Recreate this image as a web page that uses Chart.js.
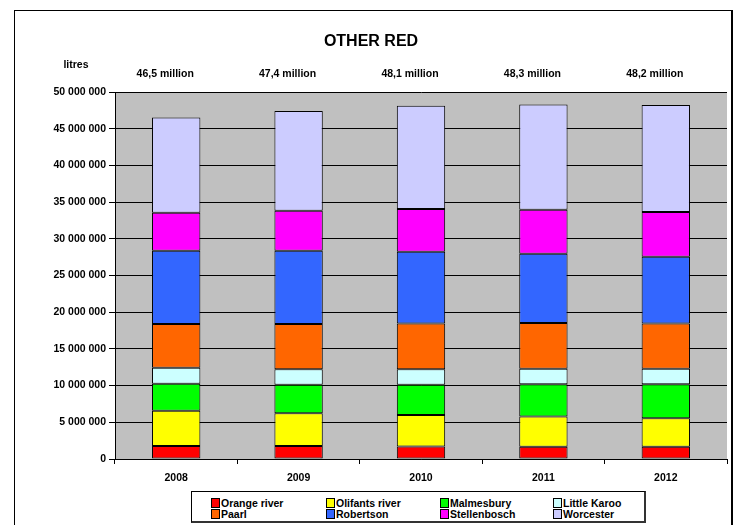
<!DOCTYPE html>
<html><head><meta charset="utf-8">
<script src="https://cdn.jsdelivr.net/npm/chart.js@4.4.1/dist/chart.umd.min.js"></script>
<style>
html,body{margin:0;padding:0;background:#fff;overflow:hidden;}
#wrap{position:relative;width:740px;height:525px;}
#frame{position:absolute;left:14px;top:10px;width:719px;height:530px;border:1px solid #000;border-right:2px solid #000;box-sizing:border-box;}
#c{position:absolute;left:0;top:0;}
#legend{position:absolute;left:191px;top:491px;width:455px;height:32px;border:1px solid #000;border-right:2px solid #333;border-bottom:2px solid #333;box-sizing:border-box;background:#fff;font:bold 10.5px "Liberation Sans",Arial,sans-serif;color:#000;}
.it{position:absolute;height:12px;line-height:12px;white-space:nowrap;}
.sw{display:inline-block;width:7px;height:8px;border:1px solid #000;vertical-align:-1px;margin-right:1px;}
</style></head>
<body>
<div id="wrap">
<div id="frame"></div>
<canvas id="c" width="740" height="525"></canvas>
<div id="legend"></div>
</div>
<script>
const categories = ['2008','2009','2010','2011','2012'];
const seriesNames = ['Orange river','Olifants river','Malmesbury','Little Karoo','Paarl','Robertson','Stellenbosch','Worcester'];
const orangeRiver   = [1780000, 1760000, 1700000, 1680000, 1680000];
const olifantsRiver = [4780000, 4470000, 4310000, 4100000, 3870000];
const malmesbury    = [3690000, 3880000, 4100000, 4420000, 4650000];
const littleKaroo   = [2180000, 2130000, 2130000, 2100000, 2100000];
const paarl         = [5970000, 6160000, 6210000, 6230000, 6150000];
const robertson     = [9970000, 9970000, 9780000, 9430000, 9100000];
const stellenbosch  = [5190000, 5460000, 5840000, 6010000, 6110000];
const worcester     = [12980000, 13570000, 14070000, 14330000, 14580000];
const totalLabels = ['46,5 million','47,4 million','48,1 million','48,3 million','48,2 million'];
const yTicksMax = 50000000, yStep = 5000000;
const colors = ['#FF0000','#FFFF00','#00FF00','#CCFFFF','#FF6600','#3366FF','#FF00FF','#CCCCFF'];
const seriesValues = [orangeRiver, olifantsRiver, malmesbury, littleKaroo, paarl, robertson, stellenbosch, worcester];

const FONT = '"Liberation Sans", Arial, sans-serif';

const decor = {
  id: 'decor',
  beforeDraw(chart) {
    const {ctx, chartArea: a} = chart;
    ctx.save();
    ctx.fillStyle = '#C0C0C0';
    ctx.fillRect(a.left, a.top, a.right - a.left, a.bottom - a.top);
    ctx.restore();
  },
  afterDraw(chart) {
    const {ctx} = chart;
    const xs = chart.scales.x;
    ctx.save();
    ctx.fillStyle = '#000';
    ctx.textAlign = 'center';
    ctx.textBaseline = 'middle';
    ctx.font = 'bold 16px ' + FONT;
    ctx.fillText('OTHER RED', 371, 42);
    ctx.font = 'bold 10.5px ' + FONT;
    ctx.fillText('litres', 76, 65);
    totalLabels.forEach((t, i) => {
      ctx.fillText(t, xs.getPixelForValue(i) - 11, 74);
    });
    ctx.restore();
  }
};

new Chart(document.getElementById('c'), {
  type: 'bar',
  data: {
    labels: categories,
    datasets: seriesNames.map((n, i) => ({
      label: n,
      data: seriesValues[i],
      backgroundColor: colors[i],
      borderColor: '#000',
      borderWidth: 1,
      borderSkipped: false,
      categoryPercentage: 1,
      barPercentage: 0.395
    }))
  },
  options: {
    responsive: false,
    animation: false,
    devicePixelRatio: 1,
    layout: {padding: {top: 92, right: 13, bottom: 36, left: 0}},
    plugins: {legend: {display: false}, title: {display: false}, tooltip: {enabled: false}},
    scales: {
      x: {
        stacked: true,
        afterFit(s) { s.height = 30; },
        grid: {display: true, drawOnChartArea: false, drawTicks: true, tickLength: 5, color: '#000', offset: true},
        border: {display: true, color: '#000', width: 1},
        ticks: {color: '#000', font: {family: FONT, size: 10.5, weight: 'bold'}, padding: 8, maxRotation: 0}
      },
      y: {
        stacked: true,
        min: 0, max: yTicksMax,
        afterFit(s) { s.width = 115; },
        grid: {color: '#000', lineWidth: 1, tickLength: 6, drawTicks: true},
        border: {display: true, color: '#000', width: 1},
        ticks: {
          stepSize: yStep, color: '#000', padding: 3,
          font: {family: FONT, size: 10.5, weight: 'bold'},
          callback: v => String(v).replace(/\B(?=(\d{3})+(?!\d))/g, ' ')
        }
      }
    }
  },
  plugins: [decor]
});

// HTML legend: 4 columns x 2 rows
const lg = document.getElementById('legend');
const colX = [19, 134, 248, 361];
const rowY = [5, 16];
seriesNames.forEach((n, i) => {
  const c = i % 4, r = Math.floor(i / 4);
  const d = document.createElement('div');
  d.className = 'it';
  d.style.left = colX[c] + 'px';
  d.style.top = rowY[r] + 'px';
  d.innerHTML = '<span class="sw" style="background:' + colors[i] + '"></span>' + n;
  lg.appendChild(d);
});
</script>
</body></html>
